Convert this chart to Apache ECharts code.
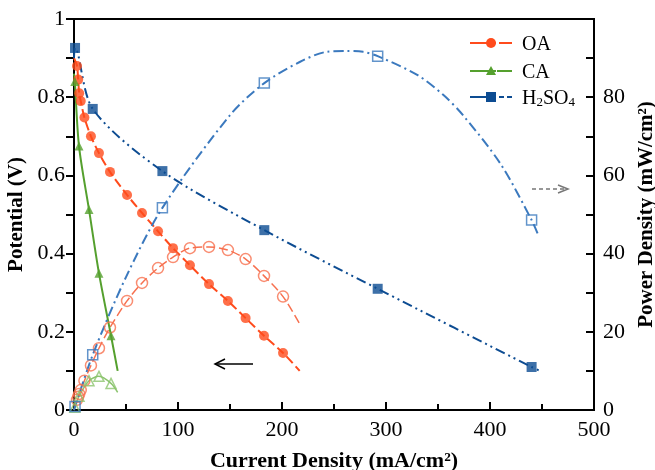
<!DOCTYPE html>
<html><head><meta charset="utf-8">
<script src="https://cdn.jsdelivr.net/npm/echarts@6/dist/echarts.min.js"></script>
<style>html,body{margin:0;padding:0;background:#fff;font-family:"Liberation Serif",serif}#c{width:655px;height:470px}</style>
</head><body><div id="c"></div>
<script>
// ---------- data ----------
const xTickValues = [0, 100, 200, 300, 400, 500];
const potentialTicks = [0, 0.2, 0.4, 0.6, 0.8, 1];
const powerTicks = [0, 20, 40, 60, 80];

// OA (oxalic acid)
const oaCurrent   = [2.9, 4, 5, 6.5, 10, 16.3, 24, 34.6, 51, 65.4, 80.8, 95.2, 111.5, 129.8, 148, 165, 182.7, 201];
const oaPotential = [0.88, 0.845, 0.81, 0.79, 0.748, 0.70, 0.657, 0.609, 0.55, 0.504, 0.457, 0.414, 0.37, 0.322, 0.279, 0.235, 0.19, 0.146];
const oaPower     = [2.6, 3.4, 4.1, 5.1, 7.5, 11.4, 15.8, 21.1, 27.9, 32.5, 36.3, 39.1, 41.4, 41.7, 40.9, 38.6, 34.3, 29.0];
const oaPotentialFitEnds = [[0, 0.90], [217, 0.10]];
const oaPowerFitEnds     = [[0, 0], [217, 22]];

// CA (citric acid)
const caCurrent   = [0.8, 4.8, 14.4, 24, 35.6];
const caPotential = [0.84, 0.675, 0.513, 0.35, 0.19];
const caPower     = [0.7, 3.5, 7.5, 8.6, 6.8];
const caPotentialFitEnds = [[0, 0.86], [42, 0.10]];
const caPowerFitEnds     = [[0, 0], [42, 4.5]];

// H2SO4
const hsCurrent   = [1, 18, 85, 183, 292, 440];
const hsPotential = [0.926, 0.77, 0.611, 0.46, 0.31, 0.11];
const hsPower     = [0.9, 14.1, 51.7, 83.6, 90.5, 48.6];
const hsPotentialFitEnds = [[0, 0.90], [448, 0.10]];
// fitted power curve
const hsPowerFitX = [0, 18, 50, 85, 150, 183, 217, 243, 262, 278, 292, 330, 355, 374, 410, 440, 446];
const hsPowerFitY = [0, 14.1, 34, 51.7, 75.4, 83.6, 89, 91.6, 91.8, 91.6, 90.5, 85.7, 80.6, 75.4, 63, 48.6, 45];

// ---------- styling ----------
const C = {
  oaV: '#FF4B1C', oaP: '#F7704F',
  caV: '#55A02E', caP: '#8CC46E',
  hsV: '#0D4C92', hsP: '#3B79BE'
};
const FONT = 'Liberation Serif';
const pairs = (xs, ys) => xs.map((x, i) => [x, ys[i]]);
const withEnds = (xs, ys, ends) => [ends[0], ...pairs(xs, ys), ends[1]];

const chart = echarts.init(document.getElementById('c'), null, {renderer: 'canvas'});

function fitLine(name, data, yAxisIndex, color, dash, width) {
  return {name, type: 'line', data, yAxisIndex, showSymbol: false, smooth: 0.3,
    lineStyle: {color, width, type: dash}, z: 2, silent: true};
}
function markers(name, data, yAxisIndex, symbol, size, color, open) {
  return {name, type: 'scatter', data, yAxisIndex, symbol, symbolSize: size, z: 3,
    itemStyle: open ? {color: 'transparent', borderColor: color, borderWidth: 1.5} : {color}};
}

const tickRich = {t: {fontFamily: FONT, fontSize: 22, color: '#000', fontWeight: 'normal'}};
const nameRich = {b: {fontFamily: FONT, fontSize: 21, color: '#000', fontWeight: 'bold'},
                  bx: {fontFamily: FONT, fontSize: 22, color: '#000', fontWeight: 'bold'}};
const labelStyle = {color: '#000', fontFamily: FONT, fontSize: 22, margin: 9, rich: tickRich};
const nameStyle = {color: '#000', fontFamily: FONT, fontSize: 21, fontWeight: 'bold', rich: nameRich};
const axisLine = {show: true, lineStyle: {color: '#000', width: 2}};
const tickLine = {width: 2, color: '#000'};

chart.setOption({
  animation: false,
  backgroundColor: '#fff',
  textStyle: {fontFamily: FONT},
  grid: {left: 74, right: 61, top: 19, bottom: 60, show: true, borderColor: '#000', borderWidth: 2,
         containLabel: false, outerBoundsMode: 'none'},
  xAxis: {
    type: 'value', min: xTickValues[0], max: xTickValues[xTickValues.length - 1], interval: 100,
    axisLine, splitLine: {show: false},
    axisTick: {inside: true, length: 8, lineStyle: tickLine},
    minorTick: {show: true, splitNumber: 2, length: 6, lineStyle: tickLine},
    axisLabel: Object.assign({}, labelStyle, {formatter: v => '{t|' + v + '}'}),
    name: '{bx|Current Density (mA/cm²)}', nameLocation: 'middle', nameGap: 40,
    nameTextStyle: Object.assign({}, nameStyle, {fontSize: 22})
  },
  yAxis: [
    {
      type: 'value', min: potentialTicks[0], max: potentialTicks[potentialTicks.length - 1], interval: 0.2,
      axisLine, splitLine: {show: false},
      axisTick: {inside: false, length: 8, lineStyle: tickLine},
      minorTick: {show: true, splitNumber: 2, length: 8, lineStyle: tickLine},
      axisLabel: Object.assign({}, labelStyle, {
        formatter: v => '{t|' + ((v === 0 || v === 1) ? String(v) : v.toFixed(1)) + '}'}),
      name: '{b|Potential (V)}', nameLocation: 'middle', nameGap: 38, nameRotate: 90,
      nameTextStyle: Object.assign({}, nameStyle)
    },
    {
      type: 'value', position: 'right', min: 0, max: 100, interval: 20,
      axisLine, splitLine: {show: false},
      axisTick: {inside: true, length: 8, lineStyle: tickLine},
      minorTick: {show: true, splitNumber: 2, length: 8, lineStyle: tickLine},
      axisLabel: Object.assign({}, labelStyle, {showMaxLabel: false, formatter: v => '{t|' + v + '}'}),
      name: '{b|Power Density (mW/cm²)}', nameLocation: 'middle', nameGap: 38, nameRotate: 90,
      nameTextStyle: Object.assign({}, nameStyle)
    }
  ],
  series: [
    fitLine('OA V fit', withEnds(oaCurrent, oaPotential, oaPotentialFitEnds), 0, C.oaV, [9, 4], 2),
    fitLine('OA P fit', withEnds(oaCurrent, oaPower, oaPowerFitEnds), 1, C.oaP, [9, 4], 1.5),
    fitLine('CA V fit', withEnds(caCurrent, caPotential, caPotentialFitEnds), 0, C.caV, 'solid', 2),
    fitLine('CA P fit', withEnds(caCurrent, caPower, caPowerFitEnds), 1, C.caP, 'solid', 1.5),
    fitLine('H2SO4 V fit', withEnds(hsCurrent, hsPotential, hsPotentialFitEnds), 0, C.hsV, [10, 4, 2, 4, 2, 4], 2),
    fitLine('H2SO4 P fit', pairs(hsPowerFitX, hsPowerFitY), 1, C.hsP, [10, 4, 2, 4], 2),
    markers('OA', pairs(oaCurrent, oaPotential), 0, 'circle', 10, C.oaV, false),
    markers('OA P', pairs(oaCurrent, oaPower), 1, 'circle', 11, C.oaP, true),
    markers('CA', pairs(caCurrent, caPotential), 0, 'triangle', 9, C.caV, false),
    markers('CA P', pairs(caCurrent, caPower), 1, 'triangle', 10, C.caP, true),
    markers('H2SO4', pairs(hsCurrent, hsPotential), 0, 'rect', 10, C.hsV, false),
    markers('H2SO4 P', pairs(hsCurrent, hsPower), 1, 'rect', 10, C.hsP, true)
  ]
});

// ---------- legend + annotation arrows ----------
const legendRows = [
  {label: 'OA', color: C.oaV, sym: 'circle', dash: [[499, 512]]},
  {label: 'CA', color: C.caV, sym: 'triangle', dash: [[497, 512]]},
  {label: 'H2SO4', color: C.hsV, sym: 'rect', dash: [[499, 504], [507, 512]]}
];
const legendY = [43, 71, 97];
const g = [];
legendRows.forEach((r, i) => {
  const y = legendY[i];
  g.push({type: 'line', shape: {x1: 470, y1: y, x2: 496, y2: y}, style: {stroke: r.color, lineWidth: 2}});
  r.dash.forEach(d => g.push({type: 'line', shape: {x1: d[0], y1: y, x2: d[1], y2: y}, style: {stroke: r.color, lineWidth: 2}}));
  if (r.sym === 'circle') g.push({type: 'circle', shape: {cx: 491, cy: y, r: 5}, style: {fill: r.color}});
  if (r.sym === 'triangle') g.push({type: 'polygon', shape: {points: [[491, y - 5], [486, y + 4], [496, y + 4]]}, style: {fill: r.color}});
  if (r.sym === 'rect') g.push({type: 'rect', shape: {x: 486, y: y - 5, width: 10, height: 10}, style: {fill: r.color}});
  const txt = r.label === 'H2SO4' ? '{n|H}{s|2}{n|SO}{s|4}' : '{n|' + r.label + '}';
  g.push({type: 'text', x: 522, y: y, style: {text: txt, verticalAlign: 'middle', align: 'left',
    rich: {n: {fontFamily: FONT, fontSize: 20, fill: '#000', lineHeight: 24, verticalAlign: 'bottom'},
           s: {fontFamily: FONT, fontSize: 13, fill: '#000', lineHeight: 24, verticalAlign: 'bottom'}}}});
});
// arrows pointing to the relevant axis
g.push({type: 'line', shape: {x1: 215, y1: 364, x2: 253, y2: 364}, style: {stroke: '#000', lineWidth: 1.5}});
g.push({type: 'polyline', shape: {points: [[225, 359], [215, 364], [225, 369]]}, style: {stroke: '#000', lineWidth: 1.5, fill: null}});
g.push({type: 'line', shape: {x1: 532, y1: 189, x2: 566, y2: 189}, style: {stroke: '#777', lineWidth: 1.5, lineDash: [4, 3]}});
g.push({type: 'polyline', shape: {points: [[558, 185], [568, 189], [558, 193]]}, style: {stroke: '#777', lineWidth: 1.5, fill: null}});
chart.setOption({graphic: g});
</script></body></html>
